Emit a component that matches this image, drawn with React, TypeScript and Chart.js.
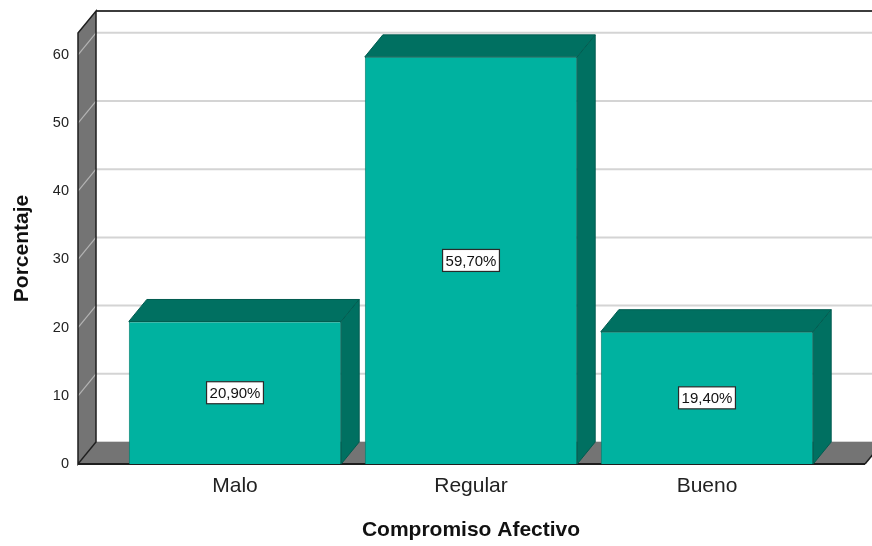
import { useEffect, useRef } from 'react';
import { Chart, registerables } from 'chart.js';

Chart.register(...registerables);

const categories = ['Malo', 'Regular', 'Bueno'];
const percentages = [20.9, 59.7, 19.4];
const valueLabels = ['20,90%', '59,70%', '19,40%'];
const yTickValues = [0, 10, 20, 30, 40, 50, 60];
const yMax = 63.2;
const xTitle = 'Compromiso Afectivo';
const yTitle = 'Porcentaje';

const FONT = '"Liberation Sans", Arial, Helvetica, sans-serif';
const FRONT = '#00b2a0';
const DARK = '#007061';
const WALL = '#747474';
const DX = 18;
const DY = 22;
const LEFT_GAP = 39;
const RIGHT_GAP = 40;

function poly(ctx: CanvasRenderingContext2D, pts: number[][], fill?: string, stroke?: string, lw = 1) {
  ctx.beginPath();
  ctx.moveTo(pts[0][0], pts[0][1]);
  for (let i = 1; i < pts.length; i++) ctx.lineTo(pts[i][0], pts[i][1]);
  ctx.closePath();
  if (fill) {
    ctx.fillStyle = fill;
    ctx.fill();
  }
  if (stroke) {
    ctx.strokeStyle = stroke;
    ctx.lineWidth = lw;
    ctx.stroke();
  }
}

function seg(ctx: CanvasRenderingContext2D, x1: number, y1: number, x2: number, y2: number, color: string, lw: number) {
  ctx.beginPath();
  ctx.moveTo(x1, y1);
  ctx.lineTo(x2, y2);
  ctx.strokeStyle = color;
  ctx.lineWidth = lw;
  ctx.stroke();
}

const threeD = {
  id: 'threeD',
  beforeDatasetsDraw(chart: any) {
    const { ctx, chartArea: a, scales } = chart;
    const y = scales.y;
    const fl = a.left - LEFT_GAP;
    const fr = a.right + RIGHT_GAP;
    const y0 = y.getPixelForValue(0);
    const yt = y.getPixelForValue(yMax);
    ctx.save();
    // back wall gridlines
    for (const v of yTickValues) {
      const py = y.getPixelForValue(v) - DY;
      seg(ctx, fl + DX, py, chart.width, py, '#d4d4d4', 2);
    }
    // top border of back wall
    seg(ctx, fl + DX, yt - DY, chart.width, yt - DY, '#3c3c3c', 2);
    // left wall
    poly(ctx, [[fl, yt], [fl + DX, yt - DY], [fl + DX, y0 - DY], [fl, y0]], WALL);
    for (const v of yTickValues) {
      const py = y.getPixelForValue(v);
      if (v === 0) continue;
      seg(ctx, fl, py, fl + DX, py - DY, '#b4b4b4', 1.2);
    }
    // floor
    poly(ctx, [[fl, y0], [fl + DX, y0 - DY], [fr + DX, y0 - DY], [fr, y0]], WALL);
    seg(ctx, fl, y0, fl + DX, y0 - DY, '#a8a8a8', 1);
    // outlines
    poly(ctx, [[fl, yt], [fl + DX, yt - DY], [fl + DX, y0 - DY], [fl, y0]], undefined, '#1e1e1e', 1.5);
    seg(ctx, fl, y0, fr, y0, '#1e1e1e', 2);
    seg(ctx, fr, y0, fr + DX, y0 - DY, '#1e1e1e', 1.5);
    ctx.restore();
  },
  afterDatasetsDraw(chart: any) {
    const { ctx } = chart;
    const meta = chart.getDatasetMeta(0);
    ctx.save();
    meta.data.forEach((bar: any, i: number) => {
      const { x, y: top, base, width } = bar.getProps(['x', 'y', 'base', 'width'], true);
      const x0 = x - width / 2;
      const x1 = x + width / 2;
      // top face
      poly(ctx, [[x0, top], [x0 + DX, top - DY], [x1 + DX, top - DY], [x1, top]], DARK, '#005c50', 1);
      // side face
      poly(ctx, [[x1, top], [x1 + DX, top - DY], [x1 + DX, base - DY], [x1, base]], DARK, '#005c50', 1);
      // value label
      ctx.font = `15px ${FONT}`;
      const txt = valueLabels[i];
      const tw = ctx.measureText(txt).width;
      const cy = (top + base) / 2;
      const bw = tw + 6;
      const bh = 22;
      ctx.fillStyle = '#ffffff';
      ctx.fillRect(x - bw / 2, cy - bh / 2, bw, bh);
      ctx.strokeStyle = '#2a2a2a';
      ctx.lineWidth = 1.2;
      ctx.strokeRect(x - bw / 2, cy - bh / 2, bw, bh);
      ctx.fillStyle = '#111111';
      ctx.textAlign = 'center';
      ctx.textBaseline = 'middle';
      ctx.fillText(txt, x, cy + 1);
    });
    ctx.restore();
  },
};

export default function App() {
  const ref = useRef<HTMLCanvasElement | null>(null);

  useEffect(() => {
    if (!ref.current) return;
    const chart = new Chart(ref.current, {
      type: 'bar',
      data: {
        labels: categories,
        datasets: [
          {
            data: percentages,
            backgroundColor: FRONT,
            borderColor: '#00806f',
            borderWidth: 1,
            categoryPercentage: 1,
            barPercentage: 0.9,
          },
        ],
      },
      options: {
        responsive: false,
        animation: false,
        devicePixelRatio: 1,
        layout: { padding: { top: 33, right: 47, left: 0, bottom: 0 } },
        plugins: { legend: { display: false }, tooltip: { enabled: false } },
        scales: {
          x: {
            grid: { display: false, drawTicks: false },
            border: { display: false },
            ticks: { color: '#222222', font: { family: FONT, size: 21 }, padding: 10 },
            title: {
              display: true,
              text: xTitle,
              color: '#111111',
              font: { family: FONT, size: 21, weight: 'bold' },
              padding: { top: 0, bottom: 3 },
            },
            afterFit: (s: any) => {
              s.height = 82;
            },
          },
          y: {
            min: 0,
            max: yMax,
            grid: { display: false, drawTicks: false },
            border: { display: false },
            afterBuildTicks: (s: any) => {
              s.ticks = yTickValues.map((v) => ({ value: v }));
            },
            ticks: { color: '#222222', font: { family: FONT, size: 14.5 }, padding: 48 },
            title: {
              display: true,
              text: yTitle,
              color: '#111111',
              font: { family: FONT, size: 21, weight: 'bold' },
              padding: { top: 10, bottom: 0 },
            },
            afterFit: (s: any) => {
              s.width = 117;
              s.paddingTop = 0;
              s.paddingBottom = 0;
            },
          },
        },
      },
      plugins: [threeD],
    });
    return () => chart.destroy();
  }, []);

  return (
    <div style={{ position: 'absolute', left: 0, top: 0, width: 872, height: 546, background: '#ffffff' }}>
      <canvas ref={ref} width={872} height={546} />
    </div>
  );
}
